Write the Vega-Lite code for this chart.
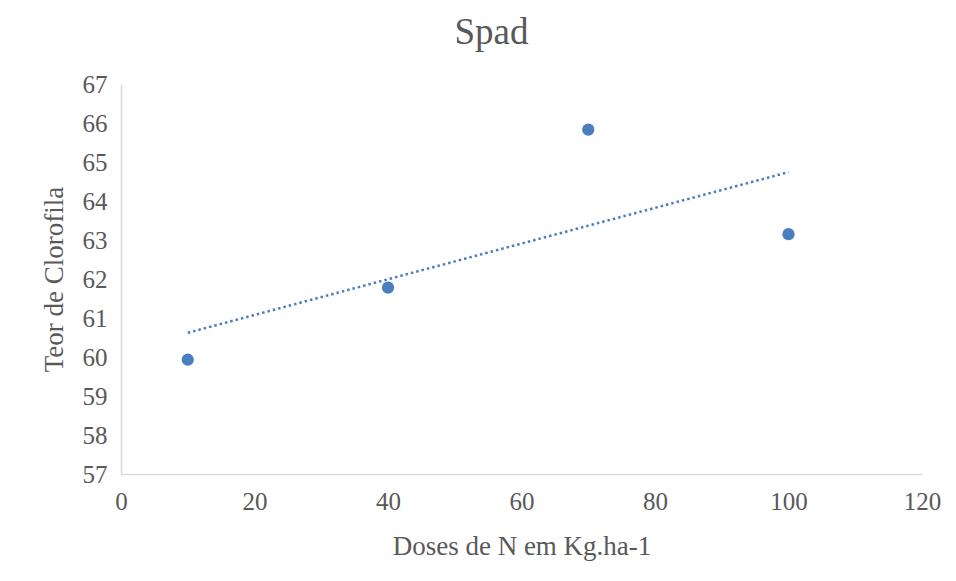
{
  "$schema": "https://vega.github.io/schema/vega-lite/v6.json",
  "width": 801,
  "height": 390,
  "autosize": {"type": "none"},
  "padding": {"left": 121, "top": 84, "right": 34, "bottom": 107},
  "background": "white",
  "datasets": {
    "points": [
      {"dose": 10, "clorofila": 59.93},
      {"dose": 40, "clorofila": 61.78},
      {"dose": 70, "clorofila": 65.83},
      {"dose": 100, "clorofila": 63.15}
    ],
    "trend": [
      {"dose": 10, "clorofila": 60.62},
      {"dose": 100, "clorofila": 64.74}
    ]
  },
  "title": {
    "text": "Spad",
    "anchor": "middle",
    "frame": "group",
    "dx": -30,
    "offset": 20,
    "font": "Liberation Serif, serif",
    "fontSize": 37,
    "fontWeight": "normal",
    "color": "#595959"
  },
  "config": {
    "view": {"stroke": null},
    "axis": {
      "domainColor": "#d9d9d9",
      "domainWidth": 1.5,
      "ticks": false,
      "grid": false,
      "labelColor": "#595959",
      "labelFont": "Liberation Serif, serif",
      "labelFontSize": 25,
      "labelOverlap": false,
      "labelFlush": false,
      "titleColor": "#595959",
      "titleFont": "Liberation Serif, serif",
      "titleFontSize": 27,
      "titleFontWeight": "normal"
    }
  },
  "layer": [
    {
      "data": {"name": "trend"},
      "mark": {"type": "line", "color": "#4a7ebf", "strokeWidth": 2.5, "strokeDash": [2.5, 3]},
      "encoding": {
        "x": {"field": "dose", "type": "quantitative"},
        "y": {"field": "clorofila", "type": "quantitative"}
      }
    },
    {
      "data": {"name": "points"},
      "mark": {"type": "point", "filled": true, "color": "#4a7ebf", "opacity": 1, "size": 150},
      "encoding": {
        "x": {
          "field": "dose",
          "type": "quantitative",
          "scale": {"domain": [0, 120], "nice": false},
          "axis": {"values": [0, 20, 40, 60, 80, 100, 120], "title": "Doses de N em Kg.ha-1", "labelPadding": 15, "titlePadding": 19, "labelOverlap": false}
        },
        "y": {
          "field": "clorofila",
          "type": "quantitative",
          "scale": {"domain": [57, 67], "nice": false, "zero": false},
          "axis": {"values": [57, 58, 59, 60, 61, 62, 63, 64, 65, 66, 67], "tickCount": 11, "labelOverlap": false, "labelBound": false, "title": "Teor de Clorofila", "labelPadding": 14, "titlePadding": 14}
        }
      }
    }
  ]
}
